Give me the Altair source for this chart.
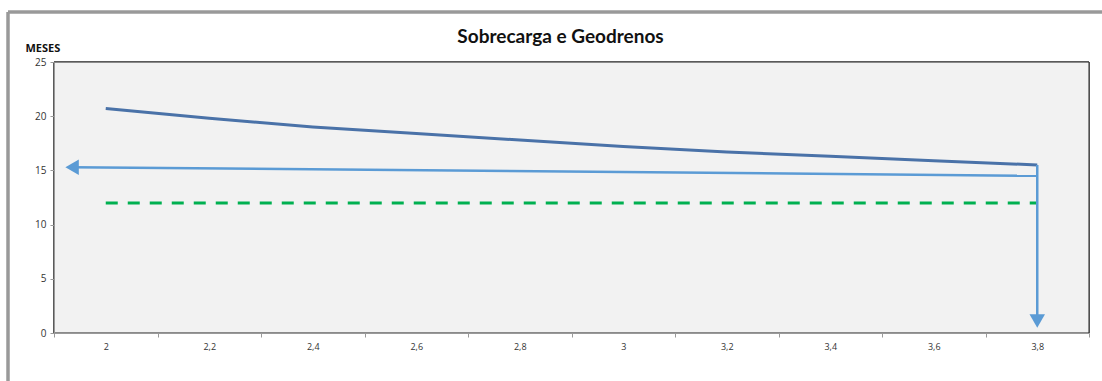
import altair as alt
import pandas as pd

# ---- data ----
x_vals = [2.0, 2.2, 2.4, 2.6, 2.8, 3.0, 3.2, 3.4, 3.6, 3.8]
meses = [20.7, 19.8, 19.0, 18.4, 17.8, 17.2, 16.7, 16.3, 15.9, 15.5]
ref_x = [2.0, 3.8]
ref_y = [12.0, 12.0]
arrow_h_x = [1.935, 3.8]
arrow_h_y = [15.3, 14.5]
arrow_v_x = [3.8, 3.8]
arrow_v_y = [15.5, 1.1]
head_x = [1.935, 3.8]
head_y = [15.3, 1.1]
head_shape = ["triangle-left", "triangle-down"]
axis_values = [1.9, 2.0, 2.1, 2.2, 2.3, 2.4, 2.5, 2.6, 2.7, 2.8, 2.9,
               3.0, 3.1, 3.2, 3.3, 3.4, 3.5, 3.6, 3.7, 3.8, 3.9]
title_text = "Sobrecarga e Geodrenos"

W, H = 1035, 271
FONT = "Open Sans"

xscale = alt.Scale(domain=[1.9, 3.9], nice=False, zero=False)
yscale = alt.Scale(domain=[0, 25], nice=False)

xaxis = alt.Axis(
    values=axis_values,
    labelExpr="round(datum.value*10)%2==0 ? replace(format(datum.value, '.1~f'), '.', ',') : ''",
    tickOpacity={"condition": {"test": "round(datum.value*10)%2==0", "value": 0}, "value": 1},
    grid=False, title=None, tickSize=4, labelPadding=5, labelFontSize=9,
    labelColor="#333", domainColor="#999", tickColor="#999", labelFont=FONT,
    labelFlush=False, labelOverlap=False, zindex=1,
)
yaxis = alt.Axis(
    values=[0, 5, 10, 15, 20, 25], grid=False, title="MESES", titleAngle=0,
    titleAlign="left", titleBaseline="bottom", titleX=-29, titleY=-9,
    titleFontSize=11, titleFontWeight="bold", titleFont=FONT, titleColor="#111",
    tickSize=4, labelPadding=4, labelFontSize=10, labelColor="#333",
    domainColor="#999", tickColor="#999", labelFont=FONT, zindex=1,
)

# plot-area background and darker top/right border
bg = alt.Chart(pd.DataFrame({"x": ref_x})).mark_rect(
    fill="#F2F2F2", stroke="#222", strokeWidth=1
).encode(x=alt.value(0), x2=alt.value(W), y=alt.value(0), y2=alt.value(H))

df_curve = pd.DataFrame({"x": x_vals, "y": meses})
curve = alt.Chart(df_curve).mark_line(color="#4A72A8", strokeWidth=3).encode(
    x=alt.X("x:Q", scale=xscale, axis=xaxis),
    y=alt.Y("y:Q", scale=yscale, axis=yaxis),
)

df_ref = pd.DataFrame({"x": ref_x, "y": ref_y})
ref = alt.Chart(df_ref).mark_line(color="#00B050", strokeWidth=3, strokeDash=[12, 10]).encode(
    x=alt.X("x:Q", scale=xscale), y=alt.Y("y:Q", scale=yscale)
)

df_h = pd.DataFrame({"x": arrow_h_x, "y": arrow_h_y})
arr_h = alt.Chart(df_h).mark_line(color="#5B9BD5", strokeWidth=2.5).encode(
    x=alt.X("x:Q", scale=xscale), y=alt.Y("y:Q", scale=yscale)
)
df_v = pd.DataFrame({"x": arrow_v_x, "y": arrow_v_y})
arr_v = alt.Chart(df_v).mark_line(color="#5B9BD5", strokeWidth=2.5).encode(
    x=alt.X("x:Q", scale=xscale), y=alt.Y("y:Q", scale=yscale)
)
df_head = pd.DataFrame({"x": head_x, "y": head_y, "s": head_shape})
heads = alt.Chart(df_head).mark_point(filled=True, color="#5B9BD5", opacity=1, size=240).encode(
    x=alt.X("x:Q", scale=xscale), y=alt.Y("y:Q", scale=yscale),
    shape=alt.Shape("s:N", scale=alt.Scale(domain=head_shape, range=head_shape), legend=None),
)

# outer frame of the chart object
frame_top = alt.Chart(df_ref).mark_rule(color="#999", strokeWidth=3, clip=False).encode(
    x=alt.value(-46), x2=alt.value(W + 13), y=alt.value(-50)
)
frame_left = alt.Chart(df_ref).mark_rule(color="#999", strokeWidth=3, clip=False).encode(
    x=alt.value(-46), y=alt.value(-50), y2=alt.value(H + 48)
)

title = alt.Chart(pd.DataFrame({"t": [title_text]})).mark_text(
    font="Lato", fontSize=19, fontWeight="bold", color="#111", align="center",
    baseline="alphabetic", clip=False,
).encode(text="t:N", x=alt.value(W / 2 - 11), y=alt.value(-19))

chart = alt.layer(bg, frame_top, frame_left, curve, ref,
                  arr_h, arr_v, heads, title).properties(
    width=W, height=H,
    autosize=alt.AutoSizeParams(type="none"),
    padding={"left": 54, "top": 62, "right": 13, "bottom": 48},
).configure_view(strokeWidth=0).configure(background="white")

chart.save("out.html", embed_options={"renderer": "svg", "actions": False})
